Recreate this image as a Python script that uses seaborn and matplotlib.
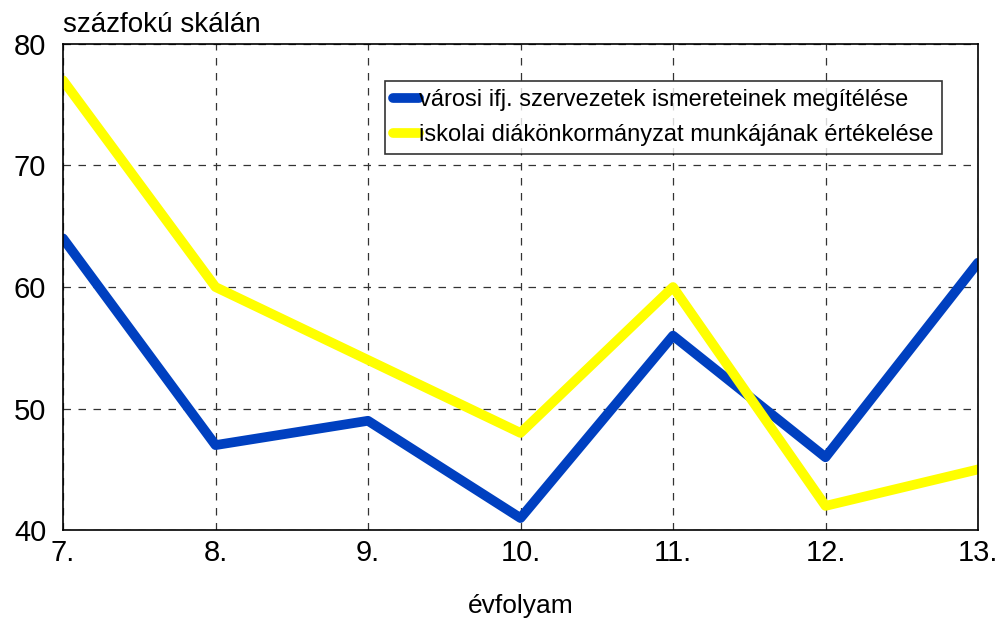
import pandas as pd
import matplotlib
matplotlib.use("Agg")
import matplotlib.pyplot as plt
import seaborn as sns

# adatok
evfolyam = ["7.", "8.", "9.", "10.", "11.", "12.", "13."]
varosi = [64, 47, 49, 41, 56, 46, 62]
iskolai = [77, 60, 54, 48, 60, 42, 45]
nev_varosi = "városi ifj. szervezetek ismereteinek megítélése"
nev_iskolai = "iskolai diákönkormányzat munkájának értékelése"

df = pd.DataFrame({
    "evfolyam": evfolyam * 2,
    "ertek": varosi + iskolai,
    "sorozat": [nev_varosi] * len(evfolyam) + [nev_iskolai] * len(evfolyam),
})

sns.set_style("white")
plt.rcParams["font.family"] = ["Liberation Sans", "DejaVu Sans"]
plt.rcParams["text.color"] = "black"
plt.rcParams["axes.labelcolor"] = "black"
plt.rcParams["xtick.color"] = "black"
plt.rcParams["ytick.color"] = "black"

fig = plt.figure(figsize=(10, 6.26), dpi=100)
ax = fig.add_axes([0.063, 0.153, 0.915, 0.777])

sns.lineplot(data=df, x="evfolyam", y="ertek", hue="sorozat",
             palette=["#0040c0", "#ffff00"], linewidth=7, sort=False,
             solid_capstyle="round", ax=ax)

ax.set_xlim(0, len(evfolyam) - 1)
ax.set_ylim(40, 80)
ax.set_yticks([40, 50, 60, 70, 80])
ax.grid(True, linestyle=(0, (6, 6)), color="#333333", linewidth=0.9)
ax.tick_params(axis="x", length=0, labelsize=21, pad=6)
ax.tick_params(axis="y", length=0, labelsize=21, pad=12)
for s in ax.spines.values():
    s.set_color("black")
    s.set_linewidth(1.2)

ax.set_xlabel("évfolyam", fontsize=19, labelpad=20)
ax.set_ylabel("")
ax.text(0, 1.012, "százfokú skálán", transform=ax.transAxes, fontsize=20,
        ha="left", va="bottom")

leg = ax.legend(loc="upper left", bbox_to_anchor=(0.352, 0.924), fontsize=17,
                handlelength=1.1, handletextpad=0.0, borderpad=0.35,
                labelspacing=0.55, frameon=True, fancybox=False,
                edgecolor="black", borderaxespad=0)
leg.get_frame().set_linewidth(1.2)

fig.savefig("out.png", dpi=100)
